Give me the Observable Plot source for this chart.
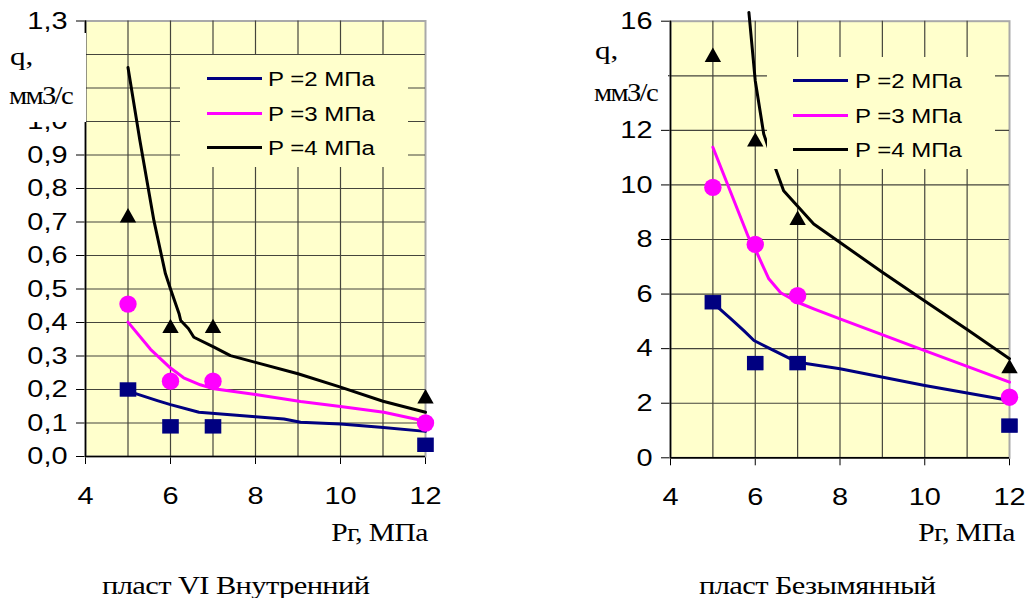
<!DOCTYPE html>
<html>
<head>
<meta charset="utf-8">
<script src="https://cdn.jsdelivr.net/npm/d3@7"></script>
<script src="https://cdn.jsdelivr.net/npm/@observablehq/plot@0.6"></script>
<style>
  html, body { margin: 0; padding: 0; background: #fff; }
  #page { position: relative; width: 1032px; height: 598px; overflow: hidden; background: #fff; }
  .panel { position: absolute; top: 0; }
  .legend { position: absolute; background: #ffffcc; }
  .key { position: absolute; height: 3px; }
  .txt { position: absolute; white-space: nowrap; line-height: 1; }
  .sans { font-family: "Liberation Sans", Arial, sans-serif; }
  .serif { font-family: "Liberation Serif", "Times New Roman", serif; }
  .qbox { position: absolute; background: #fff; }
</style>
</head>
<body>
<div id="page"></div>
<script>
// Measured points: gas pressure Pr (MPa) for each test
const pMeasured = [5, 6, 7, 12];

// пласт VI Внутренний — measured flow q (mm3/s)
const innerQ2 = [0.20, 0.09, 0.09, 0.035];
const innerQ3 = [0.455, 0.225, 0.225, 0.10];
const innerQ4 = [0.72, 0.39, 0.39, 0.18];

// пласт VI Внутренний — calculated curves
const innerFitP2 = [5, 5.69, 6.0, 6.67, 8, 8.67, 9.06, 10, 10.94, 12];
const innerFitQ2 = [0.195, 0.167, 0.155, 0.132, 0.119, 0.112, 0.102, 0.097, 0.087, 0.075];
const innerFitP3 = [5, 5.53, 6.0, 6.31, 6.7, 7.02, 8, 9.06, 10, 11.02, 12];
const innerFitQ3 = [0.401, 0.32, 0.264, 0.235, 0.214, 0.202, 0.185, 0.164, 0.149, 0.132, 0.105];
const innerFitP4 = [5, 5.28, 5.61, 5.88, 6.0, 6.2, 6.24, 6.42, 6.55, 7, 7.41, 8, 9, 10, 11, 12];
const innerFitQ4 = [1.161, 0.943, 0.704, 0.546, 0.5, 0.427, 0.406, 0.382, 0.356, 0.328, 0.301, 0.281, 0.247, 0.207, 0.165, 0.132];

// пласт Безымянный — measured flow q (mm3/s)
const namelessQ2 = [5.7, 3.47, 3.47, 1.18];
const namelessQ3 = [9.91, 7.82, 5.94, 2.22];
const namelessQ4 = [14.77, 11.67, 8.8, 3.36];

// пласт Безымянный — calculated curves
const namelessFitP2 = [5, 5.42, 5.73, 5.97, 6.36, 7, 8, 10, 12];
const namelessFitQ2 = [5.68, 5.1, 4.66, 4.3, 3.99, 3.5, 3.26, 2.65, 2.1];
const namelessFitP3 = [5, 5.84, 6.0, 6.16, 6.32, 6.6, 7, 7.38, 8, 10, 12];
const namelessFitQ3 = [11.38, 8.08, 7.65, 7.1, 6.56, 6.05, 5.7, 5.46, 5.09, 3.93, 2.77];
const namelessFitP4 = [5.85, 6.0, 6.2, 6.48, 6.67, 6.99, 7.38, 8.01, 9, 10, 11, 12];
const namelessFitQ4 = [16.32, 13.82, 11.87, 10.59, 9.79, 9.24, 8.57, 7.88, 6.8, 5.75, 4.7, 3.63];

// Axis ticks and grid
const xTicks = [4, 6, 8, 10, 12];
const xGrid = [4, 5, 6, 7, 8, 9, 10, 11];
const innerYTicks = [0, 0.1, 0.2, 0.3, 0.4, 0.5, 0.6, 0.7, 0.8, 0.9, 1.0, 1.1, 1.2, 1.3];
const namelessYTicks = [0, 2, 4, 6, 8, 10, 12, 14, 16];
// tick values whose labels sit under the q title box
const innerHiddenTicks = [1.1, 1.2];
const namelessHiddenTicks = [14];

// Series labels and colours
const seriesLabels = ["P =2 МПа", "P =3 МПа", "P =4 МПа"];
const seriesColors = ["#000080", "#ff00ff", "#000000"];

const xLabel = "Рг, МПа";
const qLabel = ["q,", "ммЗ/с"];
const panelTitles = ["пласт VI Внутренний", "пласт Безымянный"];

// Marker shapes (slightly wider than tall)
const boxSymbol = {
  draw(ctx, size) {
    const r = Math.sqrt(size / Math.PI), h = r * 0.87;
    ctx.moveTo(-r, -h); ctx.lineTo(r, -h); ctx.lineTo(r, h); ctx.lineTo(-r, h); ctx.closePath();
  }
};
const triSymbol = {
  draw(ctx, size) {
    const r = Math.sqrt(size / Math.PI), h = r * 0.88;
    ctx.moveTo(0, -h); ctx.lineTo(r, h); ctx.lineTo(-r, h); ctx.closePath();
  }
};

const rows = (xs, ys) => ys.map((q, i) => ({p: xs[i], q}));
const skip = (hidden, fmt) => d => hidden.some(h => Math.abs(h - d) < 1e-9) ? "" : fmt(d);
const commaFmt = d => d.toFixed(1).replace(".", ",");

// Horizontal stretch applied to every SVG label
function widenText(svg, k, size) {
  d3.select(svg).selectAll("text").each(function () {
    const x = +this.getAttribute("x") || 0;
    const t = this.getAttribute("transform") || "";
    this.setAttribute("transform", `${t} translate(${x},0) scale(${k},1) translate(${-x},0)`);
  })
  .style("font-size", size + "px")
  .style("font-family", "'Liberation Sans', Arial, sans-serif")
  .attr("fill", "#000");
}

function panel({yDomain, yTicks, yFormat, marginLeft, marginRight, marginTop, marginBottom,
                q2, q3, q4, fit}) {
  const svg = Plot.plot({
    width: 516,
    height: 545,
    marginLeft, marginRight, marginTop, marginBottom,
    style: {background: "transparent", color: "#000", overflow: "visible"},
    x: {domain: [4, 12], ticks: xTicks, tickSize: 8, tickPadding: 22, label: null},
    y: {domain: yDomain, ticks: yTicks, tickSize: 9, tickPadding: 9, tickFormat: yFormat, label: null},
    marks: [
      Plot.frame({fill: "#ffffcc", stroke: "#a9a9a9", strokeWidth: 2}),
      Plot.ruleX(xGrid, {stroke: "#45453c", strokeWidth: 1.2}),
      Plot.ruleY(yTicks.filter(v => v < yDomain[1]), {stroke: "#45453c", strokeWidth: 1.2}),
      Plot.ruleX([4], {stroke: "#000", strokeWidth: 1.5}),
      Plot.ruleY([0], {stroke: "#000", strokeWidth: 1.5}),
      Plot.line(rows(fit[0][0], fit[0][1]), {x: "p", y: "q", stroke: seriesColors[0], strokeWidth: 3}),
      Plot.line(rows(fit[1][0], fit[1][1]), {x: "p", y: "q", stroke: seriesColors[1], strokeWidth: 3}),
      Plot.line(rows(fit[2][0], fit[2][1]), {x: "p", y: "q", stroke: seriesColors[2], strokeWidth: 3}),
      Plot.dot(rows(pMeasured, q2), {x: "p", y: "q", symbol: boxSymbol, r: 8.3, fill: seriesColors[0]}),
      Plot.dot(rows(pMeasured, q3), {x: "p", y: "q", symbol: "circle", r: 8.7, fill: seriesColors[1]}),
      Plot.dot(rows(pMeasured, q4), {x: "p", y: "q", symbol: triSymbol, r: 8.2, fill: seriesColors[2]})
    ]
  });
  widenText(svg, 1.18, 24.5);
  return svg;
}

const page = document.getElementById("page");

const left = panel({
  yDomain: [0, 1.3], yTicks: innerYTicks, yFormat: skip(innerHiddenTicks, commaFmt),
  marginLeft: 85, marginRight: 91, marginTop: 20.5, marginBottom: 89,
  q2: innerQ2, q3: innerQ3, q4: innerQ4,
  fit: [[innerFitP2, innerFitQ2], [innerFitP3, innerFitQ3], [innerFitP4, innerFitQ4]]
});
const right = panel({
  yDomain: [0, 16], yTicks: namelessYTicks, yFormat: skip(namelessHiddenTicks, d3.format("d")),
  marginLeft: 154, marginRight: 23, marginTop: 20.7, marginBottom: 87.7,
  q2: namelessQ2, q3: namelessQ3, q4: namelessQ4,
  fit: [[namelessFitP2, namelessFitQ2], [namelessFitP3, namelessFitQ3], [namelessFitP4, namelessFitQ4]]
});

for (const [svg, x] of [[left, 0], [right, 516]]) {
  const wrap = document.createElement("div");
  wrap.className = "panel";
  wrap.style.left = x + "px";
  wrap.appendChild(svg);
  page.appendChild(wrap);
}

// Helper for absolutely placed, horizontally stretched text
function addText(str, {left, right, center, baseline, size, cls, k = 1.18, spacing = 0}) {
  const el = document.createElement("div");
  el.className = "txt " + cls;
  el.textContent = str;
  el.style.fontSize = size + "px";
  el.style.letterSpacing = spacing + "px";
  const ascent = cls === "serif" ? 0.8375 : 0.8465;
  el.style.top = (baseline - ascent * size) + "px";
  el.style.transform = `scaleX(${k})`;
  if (right != null) {
    el.style.right = (1032 - right) + "px";
    el.style.transformOrigin = "100% 0";
    page.appendChild(el);
  } else {
    el.style.transformOrigin = "0 0";
    page.appendChild(el);
    if (center != null) {
      const w = el.getBoundingClientRect().width;
      el.style.left = (center - w / 2) + "px";
    } else {
      el.style.left = left + "px";
    }
  }
  return el;
}

function addBox(cls, x, y, w, h) {
  const el = document.createElement("div");
  el.className = cls;
  Object.assign(el.style, {left: x + "px", top: y + "px", width: w + "px", height: h + "px"});
  page.appendChild(el);
}

// Legends
function legend(x, y, lineX, textX, ys) {
  addBox("legend", x, y, 228, 112);
  ys.forEach((ly, i) => {
    const k = document.createElement("div");
    k.className = "key";
    Object.assign(k.style, {left: lineX + "px", top: (ly - 1.5) + "px", width: "55px", background: seriesColors[i]});
    page.appendChild(k);
    addText(seriesLabels[i], {left: textX, baseline: ly + 7.5, size: 20, cls: "sans", k: 1.2});
  });
}
legend(180, 55, 207, 268, [78.5, 113, 147.5]);
legend(767, 57, 793, 855, [80.5, 115, 149.5]);

// q axis titles on white
addBox("qbox", 0, 33, 86, 89);
addText(qLabel[0], {left: 10, baseline: 66, size: 26, cls: "serif", k: 1.2});
addText(qLabel[1], {left: 9, baseline: 104, size: 25, cls: "serif", k: 1.15, spacing: -1.5});
addBox("qbox", 585, 32, 83, 88);
addText(qLabel[0], {left: 595, baseline: 60, size: 26, cls: "serif", k: 1.2});
addText(qLabel[1], {left: 594, baseline: 101, size: 25, cls: "serif", k: 1.15, spacing: -1.5});

// Pressure axis titles
addText(xLabel, {right: 428, baseline: 541, size: 25, cls: "serif", k: 1.18, spacing: -0.5});
addText(xLabel, {right: 1015, baseline: 541, size: 25, cls: "serif", k: 1.18, spacing: -0.5});

// Panel captions
addText(panelTitles[0], {center: 236, baseline: 594, size: 25, cls: "serif", k: 1.22, spacing: -0.5});
addText(panelTitles[1], {center: 817, baseline: 594, size: 25, cls: "serif", k: 1.22, spacing: -0.5});
</script>
</body>
</html>
